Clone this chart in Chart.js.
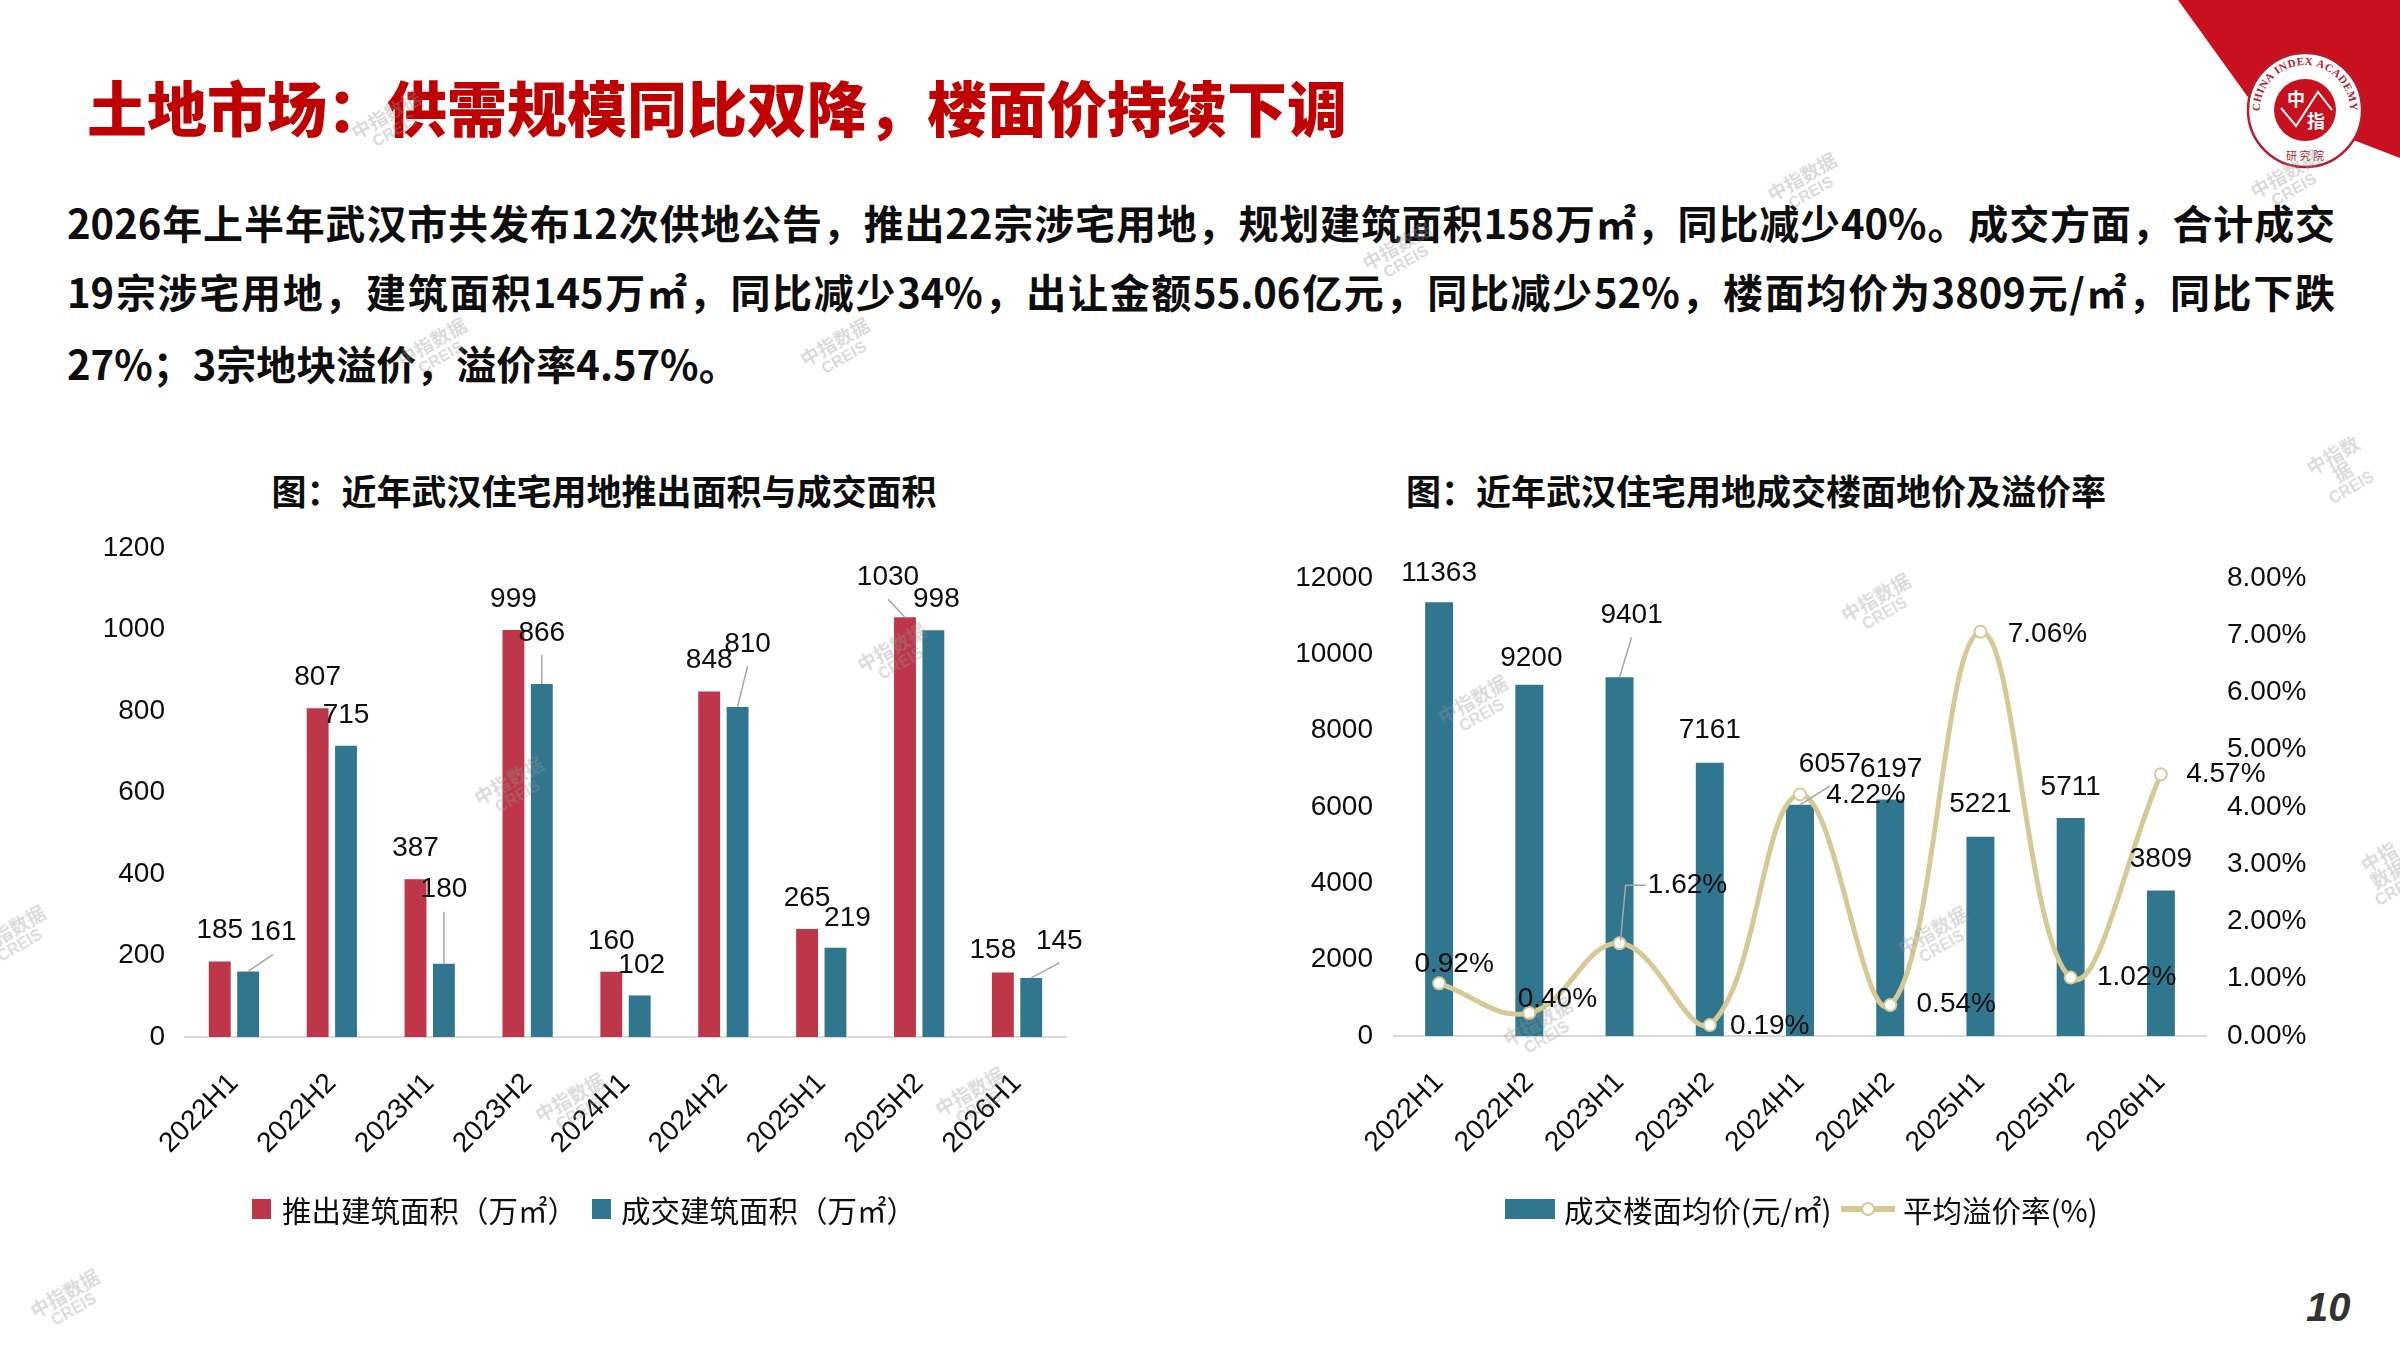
<!DOCTYPE html>
<html>
<head>
<meta charset="utf-8">
<script src="https://cdn.jsdelivr.net/npm/chart.js@4.4.1/dist/chart.umd.min.js"></script>
<style>
html, body { margin: 0; padding: 0; background: #fff; }
#page { position: relative; width: 2400px; height: 1350px; overflow: hidden; font-family: "Noto Sans CJK SC", sans-serif; }
.abs { position: absolute; }
#title { left: 87px; top: 72px; font-size: 60px; font-weight: 900; color: #C00000; line-height: 68px; white-space: nowrap; }
.para { left: 67px; width: 2268px; font-size: 40px; font-weight: 700; color: #0d0d0d; line-height: 50px; white-space: nowrap; }
.just { text-align: justify; text-align-last: justify; }
.ctitle { top: 468px; font-size: 35px; font-weight: 700; color: #0d0d0d; line-height: 44px; white-space: nowrap; transform: translateX(-50%); }
.leg { top: 1191px; height: 36px; font-size: 29.5px; line-height: 36px; color: #0d0d0d; white-space: nowrap; }
.leg span { position: absolute; top: 0; }
.box { position: absolute; top: 8px; height: 20px; }
.wm { color: rgba(150,150,150,0.35); font-weight: 700; font-size: 19px; line-height: 19px; text-align: center; transform: translate(-50%,-50%) rotate(-30deg); font-family: "Noto Sans CJK SC", sans-serif; }
.wm i { display: block; font-style: normal; font-family: "Liberation Sans", sans-serif; font-size: 16px; }
#pnum { left: 2306px; top: 1282px; font: italic 700 40px/50px "Liberation Sans", Arial, sans-serif; color: #333; }
canvas { position: absolute; }
</style>
</head>
<body>
<div id="page">
  <svg class="abs" style="left:0;top:0" width="2400" height="200">
    <polygon points="2178,0 2400,0 2400,158 2250,100" fill="#C8101E"/>
    <defs><path id="arcTop" d="M2262.7,125.4 A45,45 0 1,1 2347.3,125.4"/></defs>
    <circle cx="2305" cy="110" r="57" fill="#fff" stroke="#B22030" stroke-width="2.5"/>
    <circle cx="2305" cy="110" r="31" fill="#C8101E"/>
    <text font-family="Liberation Serif" font-weight="700" font-size="11" fill="#B22030" letter-spacing="0.5"><textPath href="#arcTop" startOffset="50%" text-anchor="middle">CHINA INDEX ACADEMY</textPath></text>
    <text x="2305" y="160" font-family="Noto Sans CJK SC" font-size="11" fill="#B22030" text-anchor="middle">研 究 院</text>
    <polyline points="2281,108 2296,126 2318,92 2332,110" fill="none" stroke="#fff" stroke-width="2"/>
    <text x="2296" y="106" font-family="Noto Sans CJK SC" font-weight="700" font-size="18" fill="#fff" text-anchor="middle">中</text>
    <text x="2316" y="128" font-family="Noto Sans CJK SC" font-weight="700" font-size="18" fill="#fff" text-anchor="middle">指</text>
  </svg>

  <div id="title" class="abs">土地市场：供需规模同比双降，楼面价持续下调</div>
  <div class="abs para just" style="top:197px">2026年上半年武汉市共发布12次供地公告，推出22宗涉宅用地，规划建筑面积158万㎡，同比减少40%。成交方面，合计成交</div>
  <div class="abs para just" style="top:266px">19宗涉宅用地，建筑面积145万㎡，同比减少34%，出让金额55.06亿元，同比减少52%，楼面均价为3809元/㎡，同比下跌</div>
  <div class="abs para" style="top:338px">27%；3宗地块溢价，溢价率4.57%。</div>

  <div class="abs ctitle" style="left:604px">图：近年武汉住宅用地推出面积与成交面积</div>
  <div class="abs ctitle" style="left:1756px">图：近年武汉住宅用地成交楼面地价及溢价率</div>

  <canvas id="areaChart" width="1100" height="780" style="left:0;top:500px;width:1100px;height:780px"></canvas>
  <canvas id="priceChart" width="1200" height="780" style="left:1200px;top:500px;width:1200px;height:780px"></canvas>

  <div class="abs leg" id="leg1" style="left:0;width:1100px"></div>
  <div class="abs leg" id="leg2" style="left:0;width:2400px"></div>

  <div id="wms"></div>
  <div id="pnum" class="abs">10</div>
</div>

<script>
// 数据
var periods = ['2022H1', '2022H2', '2023H1', '2023H2', '2024H1', '2024H2', '2025H1', '2025H2', '2026H1'];
var supplyArea = [185, 807, 387, 999, 160, 848, 265, 1030, 158];
var dealArea = [161, 715, 180, 866, 102, 810, 219, 998, 145];
var floorPrice = [11363, 9200, 9401, 7161, 6057, 6197, 5221, 5711, 3809];
var premiumRate = [0.92, 0.40, 1.62, 0.19, 4.22, 0.54, 7.06, 1.02, 4.57];
var areaTicks = [0, 200, 400, 600, 800, 1000, 1200];
var priceTicks = [0, 2000, 4000, 6000, 8000, 10000, 12000];
var rateTicks = [0, 1, 2, 3, 4, 5, 6, 7, 8];

var supplyName = '推出建筑面积（万㎡）';
var dealName = '成交建筑面积（万㎡）';
var priceName = '成交楼面均价(元/㎡)';
var rateName = '平均溢价率(%)';

var RED = '#BE3649';
var TEAL = '#30768F';
var TAN = '#D5CA96';

// 标签相对位置（像素偏移）
var supplyLabelPos = [[0,-31],[0,-31],[0,-31],[0,-31],[0,-31],[0,-31],[0,-31],[-17,-40],[-10,-22]];
var dealLabelPos = [[25,-39],[0,-30],[0,-74],[0,-51],[2,-30],[10,-63],[12,-29],[3,-31],[28,-37]];
var priceLabelPos = [[0,-29],[2,-27],[12,-62],[0,-32],[30,-41],[1,-30],[0,-32],[0,-31],[0,-31]];
var rateLabelPos = [[15,-19],[28,-14],[68,-58],[60,1],[66,1],[66,-1],[67,2],[66,0],[65,0]];

Chart.defaults.font.family = '"Liberation Sans", Arial, sans-serif';
Chart.defaults.font.size = 28;
Chart.defaults.color = '#0d0d0d';

var valueLabels = {
  id: 'valueLabels',
  afterDatasetsDraw: function (chart) {
    var ctx = chart.ctx;
    chart.data.datasets.forEach(function (ds, di) {
      var meta = chart.getDatasetMeta(di);
      if (!ds.labelPos) return;
      meta.data.forEach(function (el, i) {
        var off = ds.labelPos[i];
        var lx = el.x + off[0], ly = el.y + off[1];
        var txt = ds.labelFmt(ds.data[i]);
        ctx.save();
        ctx.font = '28px "Liberation Sans", Arial, sans-serif';
        var w = ctx.measureText(txt).width;
        ctx.strokeStyle = '#A6A6A6';
        ctx.lineWidth = 1.5;
        if (ds.type === 'line') {
          if (Math.abs(off[1]) > 30) {
            ctx.beginPath();
            ctx.moveTo(el.x + 1, el.y - 3);
            ctx.lineTo(el.x + 6, ly);
            ctx.lineTo(lx - w / 2 - 2, ly);
            ctx.stroke();
          }
        } else {
          var ex = lx, ey = ly + 22;
          if (Math.hypot(ex - el.x, ey - el.y) > 20) {
            ctx.beginPath();
            ctx.moveTo(el.x, el.y);
            ctx.lineTo(ex, ey);
            ctx.stroke();
          }
        }
        ctx.fillStyle = '#0d0d0d';
        ctx.textAlign = 'center';
        ctx.textBaseline = 'middle';
        ctx.fillText(txt, lx, ly);
        ctx.restore();
      });
    });
  }
};

function intLabel(v) { return String(v); }
function pctLabel(v) { return v.toFixed(2) + '%'; }

var xAxis = {
  grid: { display: false, drawTicks: false },
  border: { display: true, color: '#D9D9D9', width: 2 },
  ticks: { autoSkip: false, minRotation: 45, maxRotation: 45, padding: 30 }
};

new Chart(document.getElementById('areaChart'), {
  type: 'bar',
  data: {
    labels: periods,
    datasets: [{
      label: supplyName,
      data: supplyArea,
      backgroundColor: RED,
      categoryPercentage: 0.58,
      barPercentage: 0.77,
      labelPos: supplyLabelPos,
      labelFmt: intLabel
    }, {
      label: dealName,
      data: dealArea,
      backgroundColor: TEAL,
      categoryPercentage: 0.58,
      barPercentage: 0.77,
      labelPos: dealLabelPos,
      labelFmt: intLabel
    }]
  },
  options: {
    responsive: false,
    devicePixelRatio: 1,
    animation: false,
    layout: { padding: { top: 48, right: 34, left: 0, bottom: 0 } },
    plugins: { legend: { display: false }, tooltip: { enabled: false } },
    scales: {
      x: Object.assign({}, xAxis, { afterFit: function (s) { s.height = 243; } }),
      y: {
        min: 0, max: 1200,
        grid: { display: false, drawTicks: false },
        border: { display: false },
        afterBuildTicks: function (s) { s.ticks = areaTicks.map(function (v) { return { value: v }; }); },
        ticks: { padding: 20, callback: function (v) { return String(v); } },
        afterFit: function (s) { s.width = 185; }
      }
    }
  },
  plugins: [valueLabels]
});

new Chart(document.getElementById('priceChart'), {
  type: 'bar',
  data: {
    labels: periods,
    datasets: [{
      type: 'line',
      label: rateName,
      data: premiumRate,
      yAxisID: 'y2',
      borderColor: TAN,
      borderWidth: 5,
      tension: 0.4,
      pointRadius: 6,
      pointBackgroundColor: '#fff',
      pointBorderColor: TAN,
      pointBorderWidth: 2,
      order: 0,
      labelPos: rateLabelPos,
      labelFmt: pctLabel
    }, {
      type: 'bar',
      label: priceName,
      data: floorPrice,
      yAxisID: 'y',
      backgroundColor: TEAL,
      categoryPercentage: 1,
      barPercentage: 0.31,
      order: 1,
      labelPos: priceLabelPos,
      labelFmt: intLabel
    }]
  },
  options: {
    responsive: false,
    devicePixelRatio: 1,
    animation: false,
    layout: { padding: { top: 78, right: 44, left: 0, bottom: 0 } },
    plugins: { legend: { display: false }, tooltip: { enabled: false } },
    scales: {
      x: Object.assign({}, xAxis, { afterFit: function (s) { s.height = 244; } }),
      y: {
        position: 'left',
        min: 0, max: 12000,
        grid: { display: false, drawTicks: false },
        border: { display: false },
        afterBuildTicks: function (s) { s.ticks = priceTicks.map(function (v) { return { value: v }; }); },
        ticks: { padding: 21, callback: function (v) { return String(v); } },
        afterFit: function (s) { s.width = 194; }
      },
      y2: {
        position: 'right',
        min: 0, max: 8,
        grid: { display: false, drawTicks: false },
        border: { display: false },
        afterBuildTicks: function (s) { s.ticks = rateTicks.map(function (v) { return { value: v }; }); },
        ticks: { padding: 21, callback: function (v) { return Number(v).toFixed(2) + '%'; } },
        afterFit: function (s) { s.width = 150; }
      }
    }
  },
  plugins: [valueLabels]
});

// 图例
document.getElementById('leg1').innerHTML =
  '<div class="box" style="left:252px;width:19px;background:' + RED + '"></div>' +
  '<span style="left:282px">' + supplyName + '</span>' +
  '<div class="box" style="left:592px;width:19px;background:' + TEAL + '"></div>' +
  '<span style="left:621px">' + dealName + '</span>';
document.getElementById('leg2').innerHTML =
  '<div class="box" style="left:1505px;width:50px;background:' + TEAL + '"></div>' +
  '<span style="left:1564px">' + priceName + '</span>' +
  '<div class="box" style="left:1841px;top:15px;height:6px;width:54px;background:' + TAN + '"></div>' +
  '<div class="box" style="left:1861px;top:11px;height:10px;width:10px;border-radius:50%;background:#fff;border:2px solid ' + TAN + '"></div>' +
  '<span style="left:1903px">' + rateName + '</span>';

// 水印
var wmSpots = [[390,122],[1806,184],[1401,253],[436,349],[839,349],[2342,471],[1880,605],[896,655],[513,788],[1477,707],[15,937],[1937,938],[1542,1029],[574,1105],[974,1099],[69,1301],[2289,181],[2388,873]];
document.getElementById('wms').innerHTML = wmSpots.map(function (p) {
  return '<div class="abs wm" style="left:' + p[0] + 'px;top:' + p[1] + 'px">中指数据<i>CREIS</i></div>';
}).join('');
</script>
</body>
</html>
